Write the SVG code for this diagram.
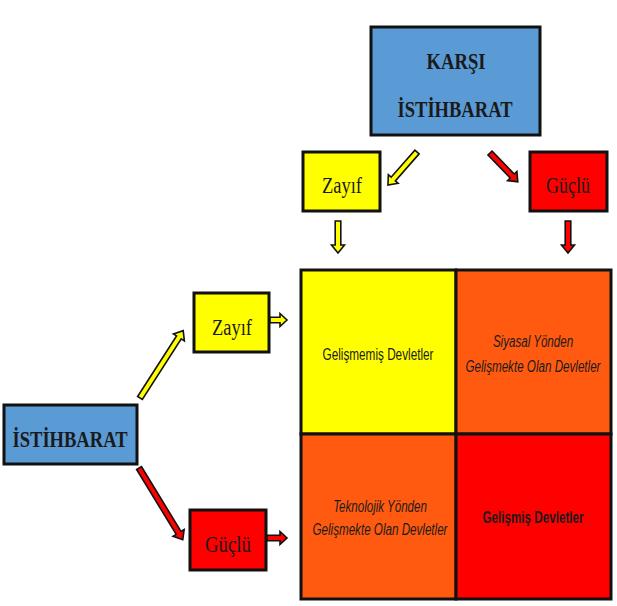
<svg xmlns="http://www.w3.org/2000/svg" width="617" height="606" viewBox="0 0 617 606">
<style>
.box{stroke:#111;stroke-width:3}
.blue{fill:#5B9BD5}
.yel{fill:#FFFF00}
.red{fill:#FF0000}
.org{fill:#FF5A10}
.arr{stroke:#111;stroke-width:1.6;stroke-linejoin:miter}
.ser{font-family:"Liberation Serif","Times New Roman",serif;fill:#1a1a1a;text-anchor:middle}
.b{font-weight:bold}
.sans{font-family:"Liberation Sans",Arial,sans-serif;fill:#1a1a1a;text-anchor:middle;font-size:16px}
.it{font-style:italic}
</style>
<rect width="617" height="606" fill="#fff"/>
<g id="karsi-istihbarat">
<rect class="box blue" x="371" y="27" width="169" height="108"/>
<text class="ser b" x="456" y="69" font-size="24" textLength="59" lengthAdjust="spacingAndGlyphs">KARŞI</text>
<text class="ser b" x="455" y="117" font-size="24" textLength="115" lengthAdjust="spacingAndGlyphs">İSTİHBARAT</text>
</g>
<g id="top-zayif">
<rect class="box yel" x="303" y="152" width="77" height="59"/>
<text class="ser" x="342" y="193" font-size="23" textLength="40" lengthAdjust="spacingAndGlyphs">Zayıf</text>
</g>
<g id="top-guclu">
<rect class="box red" x="530" y="152" width="77" height="59"/>
<text class="ser" x="568" y="193" font-size="23" textLength="44" lengthAdjust="spacingAndGlyphs">Güçlü</text>
</g>
<g id="istihbarat">
<rect class="box blue" x="4" y="405" width="133" height="59"/>
<text class="ser b" x="70" y="447" font-size="24" textLength="115" lengthAdjust="spacingAndGlyphs">İSTİHBARAT</text>
</g>
<g id="left-zayif">
<rect class="box yel" x="194" y="293" width="75" height="59"/>
<text class="ser" x="232" y="335" font-size="23" textLength="40" lengthAdjust="spacingAndGlyphs">Zayıf</text>
</g>
<g id="left-guclu">
<rect class="box red" x="190" y="510" width="76" height="60"/>
<text class="ser" x="228" y="552" font-size="23" textLength="46" lengthAdjust="spacingAndGlyphs">Güçlü</text>
</g>
<g id="cell-gelismemis">
<rect class="box yel" x="301" y="270" width="155" height="164"/>
<text class="sans" transform="translate(378,360) scale(0.75,1)" x="0" y="0" textLength="148" lengthAdjust="spacingAndGlyphs">Gelişmemiş Devletler</text>
</g>
<g id="cell-siyasal">
<rect class="box org" x="456" y="270" width="155" height="164"/>
<text class="sans it" transform="translate(533,347) scale(0.75,1)" x="0" y="0" textLength="107" lengthAdjust="spacingAndGlyphs">Siyasal Yönden</text>
<text class="sans it" transform="translate(533,372) scale(0.75,1)" x="0" y="0" textLength="180" lengthAdjust="spacingAndGlyphs">Gelişmekte Olan Devletler</text>
</g>
<g id="cell-teknolojik">
<rect class="box org" x="301" y="434" width="155" height="165"/>
<text class="sans it" transform="translate(380,512) scale(0.75,1)" x="0" y="0" textLength="125" lengthAdjust="spacingAndGlyphs">Teknolojik Yönden</text>
<text class="sans it" transform="translate(380,535) scale(0.75,1)" x="0" y="0" textLength="180" lengthAdjust="spacingAndGlyphs">Gelişmekte Olan Devletler</text>
</g>
<g id="cell-gelismis">
<rect class="box red" x="456" y="434" width="155" height="165"/>
<text class="sans b" transform="translate(533,523) scale(0.75,1)" x="0" y="0" textLength="135" lengthAdjust="spacingAndGlyphs">Gelişmiş Devletler</text>
</g>
<g id="connectors">
<polygon class="arr yel" transform="translate(417,152) rotate(131.3)" points="0,-2.8 36,-2.8 36,-6.5 44,0 36,6.5 36,2.8 0,2.8"/>
<polygon class="arr red" transform="translate(490,153) rotate(46)" points="0,-2.8 32,-2.8 32,-6.5 40,0 32,6.5 32,2.8 0,2.8"/>
<polygon class="arr yel" transform="translate(338,221) rotate(90)" points="0,-2.8 24,-2.8 24,-6.5 32,0 24,6.5 24,2.8 0,2.8"/>
<polygon class="arr red" transform="translate(568,221) rotate(90)" points="0,-2.8 24,-2.8 24,-6.5 32,0 24,6.5 24,2.8 0,2.8"/>
<polygon class="arr yel" transform="translate(140,398) rotate(-57.3)" points="0,-2.8 72,-2.8 72,-6.5 80,0 72,6.5 72,2.8 0,2.8"/>
<polygon class="arr red" transform="translate(139,468) rotate(58.6)" points="0,-2.8 76,-2.8 76,-6.5 84,0 76,6.5 76,2.8 0,2.8"/>
<polygon class="arr yel" transform="translate(270,320)" points="0,-2.8 10,-2.8 10,-6.5 17,0 10,6.5 10,2.8 0,2.8"/>
<polygon class="arr red" transform="translate(267,538)" points="0,-2.8 13,-2.8 13,-6.5 20,0 13,6.5 13,2.8 0,2.8"/>
</g>
</svg>
